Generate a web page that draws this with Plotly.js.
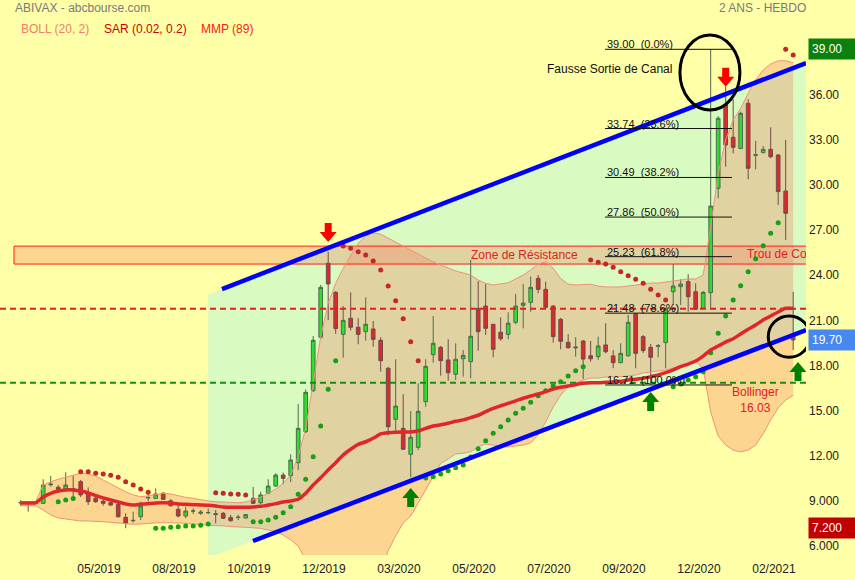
<!DOCTYPE html>
<html>
<head>
<meta charset="utf-8">
<script src="https://cdn.plot.ly/plotly-3.0.1.min.js"></script>
<style>
  html, body { margin: 0; padding: 0; background: #ffffa8; }
  #chart { width: 855px; height: 580px; }
</style>
</head>
<body>
<div id="chart"></div>
<script>
// ABIVAX weekly candles, two years
const weeks = [
  '2019-03-11','2019-03-18','2019-03-25','2019-04-01','2019-04-08','2019-04-15','2019-04-22','2019-04-29','2019-05-06','2019-05-13',
  '2019-05-20','2019-05-27','2019-06-03','2019-06-10','2019-06-17','2019-06-24','2019-07-01','2019-07-08','2019-07-15','2019-07-22',
  '2019-07-29','2019-08-05','2019-08-12','2019-08-19','2019-08-26','2019-09-02','2019-09-09','2019-09-16','2019-09-23','2019-09-30',
  '2019-10-07','2019-10-14','2019-10-21','2019-10-28','2019-11-04','2019-11-11','2019-11-18','2019-11-25','2019-12-02','2019-12-09',
  '2019-12-16','2019-12-23','2019-12-30','2020-01-06','2020-01-13','2020-01-20','2020-01-27','2020-02-03','2020-02-10','2020-02-17',
  '2020-02-24','2020-03-02','2020-03-09','2020-03-16','2020-03-23','2020-03-30','2020-04-06','2020-04-13','2020-04-20','2020-04-27',
  '2020-05-04','2020-05-11','2020-05-18','2020-05-25','2020-06-01','2020-06-08','2020-06-15','2020-06-22','2020-06-29','2020-07-06',
  '2020-07-13','2020-07-20','2020-07-27','2020-08-03','2020-08-10','2020-08-17','2020-08-24','2020-08-31','2020-09-07','2020-09-14',
  '2020-09-21','2020-09-28','2020-10-05','2020-10-12','2020-10-19','2020-10-26','2020-11-02','2020-11-09','2020-11-16','2020-11-23',
  '2020-11-30','2020-12-07','2020-12-14','2020-12-21','2020-12-28','2021-01-04','2021-01-11','2021-01-18','2021-01-25','2021-02-01',
  '2021-02-08','2021-02-15','2021-02-22','2021-03-01'
];

const open = [
  8.87, 8.90, 8.85, 8.85, 10.08, 9.92, 9.80, 9.82, 10.29, 9.52,
  9.19, 9.00, 8.89, 8.78, 7.92, 7.70, 7.96, 9.20, 9.18, 9.52,
  9.02, 8.46, 8.01, 8.33, 8.19, 8.22, 8.16, 8.19, 7.90, 7.91,
  7.88, 9.18, 8.89, 9.52, 10.00, 10.73, 10.69, 11.55, 13.61, 16.33,
  19.88, 24.79, 22.86, 20.07, 21.14, 20.54, 20.25, 20.43, 19.68, 17.82,
  14.43, 13.83, 12.11, 12.57, 15.60, 18.72, 19.21, 18.37, 17.42, 18.45,
  18.26, 21.80, 21.95, 20.74, 20.21, 20.07, 20.87, 22.00, 22.20, 23.79,
  23.06, 21.95, 21.07, 19.54, 19.17, 19.63, 18.65, 18.59, 19.37, 18.64,
  18.19, 18.65, 21.42, 19.92, 19.21, 19.28, 19.52, 22.90, 23.24, 23.57,
  22.90, 21.80, 22.84, 29.77, 35.30, 33.16, 32.42, 35.41, 31.96, 32.14,
  32.36, 31.98, 29.59, 20.03
];
const high = [
  9.07, 8.95, 8.95, 10.45, 10.67, 10.07, 10.91, 10.67, 10.40, 9.91,
  9.27, 9.12, 9.07, 8.85, 8.19, 8.30, 8.96, 9.52, 9.85, 9.60,
  9.12, 8.74, 8.63, 8.52, 8.41, 8.52, 8.41, 8.27, 8.08, 8.08,
  8.14, 9.94, 9.62, 10.45, 10.84, 10.89, 12.11, 15.45, 16.42, 19.96,
  23.35, 25.56, 22.95, 21.95, 22.86, 21.14, 22.53, 20.96, 19.88, 17.90,
  18.42, 16.09, 14.98, 16.82, 18.42, 21.29, 19.30, 19.74, 19.48, 19.03,
  25.01, 23.61, 23.41, 20.76, 21.20, 21.54, 22.75, 23.41, 23.90, 24.01,
  23.57, 22.02, 21.16, 20.09, 19.88, 19.70, 19.63, 19.92, 20.81, 19.03,
  19.48, 21.36, 21.49, 20.03, 19.43, 19.43, 21.82, 24.74, 23.73, 24.06,
  23.46, 22.95, 39.00, 34.57, 36.52, 35.68, 34.86, 35.68, 32.93, 32.58,
  33.82, 32.05, 32.98, 22.90
];
const low = [
  8.67, 8.30, 8.80, 8.85, 9.96, 9.69, 9.74, 9.29, 9.27, 8.74,
  8.87, 8.69, 8.67, 7.92, 7.20, 7.57, 7.74, 8.96, 9.14, 9.07,
  8.63, 7.92, 7.86, 8.14, 8.08, 8.14, 7.52, 7.81, 7.63, 7.74,
  7.83, 8.81, 8.81, 9.47, 9.94, 10.13, 10.27, 11.07, 13.52, 16.24,
  19.76, 21.02, 20.10, 18.52, 20.32, 19.41, 19.65, 19.25, 17.59, 13.36,
  13.66, 12.39, 10.57, 12.39, 15.27, 18.19, 17.33, 16.99, 17.04, 17.26,
  17.15, 18.98, 20.03, 18.55, 19.65, 19.74, 20.74, 20.47, 21.58, 22.80,
  21.80, 19.52, 19.08, 19.14, 18.59, 17.11, 18.26, 18.37, 18.81, 17.82,
  18.15, 18.59, 17.82, 18.83, 16.71, 18.55, 17.82, 22.02, 22.02, 21.58,
  21.69, 21.74, 21.80, 29.11, 31.20, 32.09, 32.36, 30.37, 31.03, 32.09,
  31.76, 28.66, 26.34, 19.03
];
const close = [
  8.91, 8.85, 8.88, 10.07, 10.13, 9.78, 10.07, 9.77, 9.41, 8.96,
  8.96, 8.85, 8.74, 7.96, 7.52, 7.72, 8.67, 9.24, 9.47, 9.12,
  8.69, 8.01, 8.34, 8.35, 8.27, 8.24, 8.12, 7.86, 7.70, 7.93,
  8.10, 8.85, 9.41, 10.00, 10.73, 10.51, 11.73, 13.83, 16.22, 19.68,
  23.19, 23.42, 20.45, 21.00, 20.54, 20.07, 20.74, 19.74, 18.32, 13.94,
  15.31, 12.44, 13.24, 14.96, 17.95, 19.48, 18.32, 17.52, 18.42, 18.68,
  19.94, 20.25, 20.47, 19.08, 19.78, 20.81, 21.95, 22.15, 23.19, 23.06,
  21.87, 19.92, 19.61, 19.18, 19.23, 18.43, 18.45, 19.30, 18.92, 18.19,
  18.81, 20.87, 18.81, 18.99, 18.55, 19.32, 21.74, 23.28, 23.41, 22.57,
  21.74, 22.86, 28.59, 34.42, 32.65, 32.49, 34.75, 31.10, 32.00, 32.36,
  31.87, 29.55, 28.11, 19.70
];

// Bollinger (20, 2) envelope
const bollUpper = [
  8.96, 8.96, 8.96, 10.07, 10.29, 10.45, 10.58, 10.73, 10.85, 10.80,
  10.67, 10.40, 10.13, 9.85, 9.62, 9.41, 9.29, 9.34, 9.45, 9.52,
  9.47, 9.34, 9.25, 9.18, 9.07, 9.01, 8.96, 8.92, 8.89, 8.89,
  8.94, 9.07, 9.25, 9.52, 9.80, 10.18, 10.73, 11.95, 13.85, 16.82,
  19.92, 22.13, 23.46, 24.46, 25.34, 26.12, 26.60, 26.82, 26.72, 26.45,
  26.20, 25.94, 25.67, 25.41, 25.14, 24.88, 24.68, 24.48, 24.28, 24.15,
  24.01, 23.68, 23.46, 23.35, 23.40, 23.50, 23.75, 24.01, 24.35, 24.74,
  24.90, 24.46, 23.79, 23.40, 23.35, 23.35, 23.40, 23.28, 23.22, 23.22,
  23.22, 23.28, 23.35, 23.42, 23.48, 23.48, 23.55, 23.61, 23.68, 23.75,
  23.75, 24.01, 27.22, 30.77, 32.98, 34.31, 35.08, 36.08, 36.96, 37.63,
  38.02, 38.24, 38.24, 38.11
];
const bollLower = [
  8.69, 8.69, 8.69, 8.41, 8.08, 7.88, 7.81, 7.74, 7.68, 7.68,
  7.68, 7.63, 7.59, 7.55, 7.48, 7.46, 7.48, 7.53, 7.55, 7.57,
  7.57, 7.55, 7.53, 7.48, 7.46, 7.41, 7.37, 7.35, 7.30, 7.28,
  7.26, 7.23, 7.19, 7.08, 6.95, 6.75, 6.42, 6.02, 5.09, 3.70,
  1.80, 1.00, 1.20, 1.40, 1.70, 2.20, 2.80, 3.40, 4.30, 5.70,
  6.70, 7.55, 8.00, 8.90, 9.70, 10.70, 11.50, 11.80, 12.13, 12.17,
  12.28, 12.61, 12.79, 12.72, 12.66, 12.59, 12.66, 12.72, 12.86, 13.39,
  14.25, 15.25, 16.04, 16.58, 16.84, 17.04, 17.17, 17.17, 17.24, 17.24,
  17.26, 17.31, 17.37, 17.51, 17.57, 17.64, 17.70, 17.84, 17.97, 18.10,
  18.24, 17.84, 14.92, 13.32, 12.72, 12.39, 12.26, 12.39, 12.72, 13.46,
  14.39, 15.18, 15.71, 16.03
];

// MMP (89)
const mmp89 = [
  8.87, 8.87, 8.89, 9.27, 9.52, 9.67, 9.74, 9.74, 9.67, 9.54,
  9.36, 9.21, 9.07, 8.94, 8.81, 8.74, 8.79, 8.83, 8.87, 8.89,
  8.87, 8.81, 8.79, 8.76, 8.74, 8.72, 8.67, 8.61, 8.59, 8.59,
  8.59, 8.61, 8.65, 8.74, 8.83, 8.94, 9.01, 9.12, 9.52, 10.07,
  10.55, 11.07, 11.55, 12.06, 12.44, 12.77, 12.94, 13.17, 13.46, 13.54,
  13.57, 13.59, 13.59, 13.66, 13.83, 13.99, 14.07, 14.17, 14.30, 14.39,
  14.54, 14.70, 14.94, 15.16, 15.33, 15.49, 15.65, 15.83, 15.98, 16.11,
  16.27, 16.44, 16.56, 16.64, 16.73, 16.82, 16.86, 16.86, 16.89, 16.91,
  16.96, 17.04, 17.09, 17.15, 17.26, 17.37, 17.53, 17.71, 17.93, 18.10,
  18.30, 18.63, 19.03, 19.30, 19.56, 19.78, 20.10, 20.41, 20.69, 21.03,
  21.29, 21.56, 21.80, 21.80
];

// Parabolic SAR (0.02, 0.2)
const sar = [
  null, null, null, null, null, 8.96, 9.07, 9.18, 10.95, 10.95,
  10.85, 10.80, 10.71, 10.58, 10.29, 10.07, 9.80, 9.58, 7.19, 7.19,
  7.26, 7.30, 7.35, 7.35, 7.39, 7.48, 9.56, 9.52, 9.47, 9.45,
  9.41, 7.63, 7.63, 7.74, 7.92, 8.23, 8.63, 9.45, 10.45, 11.95,
  13.99, 16.42, 18.32, 25.94, 25.79, 25.56, 25.34, 24.94, 24.35, 23.28,
  22.31, 21.11, 19.58, 18.32, 10.53, 10.62, 10.80, 11.02, 11.22, 11.40,
  11.93, 12.48, 13.01, 13.50, 13.94, 14.38, 14.83, 15.16, 15.56, 15.99,
  16.33, 16.66, 16.93, 17.31, 17.66, 17.92, 25.01, 24.86, 24.74, 24.52,
  24.23, 23.97, 23.73, 23.46, 23.06, 22.68, 22.35, 16.60, 16.78, 17.04,
  17.26, 17.59, 18.85, 20.14, 21.29, 22.35, 23.30, 24.23, 25.10, 25.96,
  26.78, 27.49, 39.00, 38.62
];

// Fibonacci retracement levels
const fibLevels = [39.00, 33.74, 30.49, 27.86, 25.23, 21.48, 16.71];
const fibRatios = ['0.0%', '23.6%', '38.2%', '50.0%', '61.8%', '78.6%', '100.0%'];

// Horizontal levels
const resistanceZone = [24.74, 25.93];
const resistanceLine = 21.77;
const supportLine = 16.86;

// Axis ticks
const yTickValues = [6, 9, 12, 15, 18, 21, 24, 27, 30, 33, 36];
const yTickLabels = ['6.000', '9.000', '12.00', '15.00', '18.00', '21.00', '24.00', '27.00', '30.00', '33.00', '36.00'];
const xTickWeeks = ['2019-05-27', '2019-08-05', '2019-10-14', '2019-12-23', '2020-03-02', '2020-05-11', '2020-07-20', '2020-09-28', '2020-12-07', '2021-02-15'];
const xTickLabels = ['05/2019', '08/2019', '10/2019', '12/2019', '03/2020', '05/2020', '07/2020', '09/2020', '12/2020', '02/2021'];

// ---- helpers: week index -> date string on the time axis
const DAY = 86400000, WEEK = 7 * DAY;
const T0 = Date.parse(weeks[0] + 'T00:00:00Z');
const toDate = ms => new Date(ms).toISOString().slice(0, 19).replace('T', ' ');
const xAt = i => toDate(T0 + i * WEEK);
const xPath = d => d.replace(' ', '_');
const X_LEFT = -2.76, X_RIGHT = 104.71;

const last = close.length - 1;
const periodHigh = Math.max(...high);
const periodLow = Math.min(...low);

const FONT = 'Liberation Sans, Arial, Helvetica, sans-serif';

// ---- background areas (shapes under the traces)
const shapes = [];
const polygon = pts => 'M' + pts.map(p => xPath(p[0]) + ',' + p[1]).join(' L') + ' Z';

// trend channel area
shapes.push({
  type: 'path', layer: 'below', line: { width: 0 }, fillcolor: '#d9fbc1',
  path: polygon([[xAt(25), 22.72], [xAt(X_RIGHT), 38.09], [xAt(X_RIGHT), 20.36], [xAt(25), 5.22]])
});

// Bollinger envelope area
const bandPts = weeks.map((d, i) => [d + ' 00:00:00', bollUpper[i]])
  .concat(weeks.map((d, i) => [d + ' 00:00:00', bollLower[i]]).reverse());
shapes.push({
  type: 'path', layer: 'below', line: { width: 0 }, fillcolor: 'rgba(245,120,90,0.30)',
  path: polygon(bandPts)
});

// resistance zone
shapes.push({
  type: 'rect', layer: 'below', x0: xAt(-0.89), x1: xAt(X_RIGHT + 1), y0: resistanceZone[0], y1: resistanceZone[1],
  fillcolor: 'rgba(240,130,100,0.33)', line: { color: '#ff1a1a', width: 1 }
});

// ---- traces
const traces = [];

// Bollinger bands
traces.push({ type: 'scatter', mode: 'lines', hoverinfo: 'skip', x: weeks, y: bollLower, line: { color: '#f0907c', width: 1 } });
traces.push({ type: 'scatter', mode: 'lines', hoverinfo: 'skip', x: weeks, y: bollUpper, line: { color: '#f0907c', width: 1 } });

// candles
traces.push({
  type: 'candlestick', x: weeks, open: open, high: high, low: low, close: close,
  increasing: { line: { color: '#4f6a4f', width: 1 }, fillcolor: '#2bdf2b' },
  decreasing: { line: { color: '#6e4c4c', width: 1 }, fillcolor: '#dc2a2a' },
  whiskerwidth: 0, hoverinfo: 'skip'
});

// dashed reference levels
traces.push({
  type: 'scatter', mode: 'lines', hoverinfo: 'skip',
  x: [xAt(X_LEFT), xAt(X_RIGHT)], y: [resistanceLine, resistanceLine],
  line: { color: '#e02020', width: 2, dash: '6px,4px' }
});
traces.push({
  type: 'scatter', mode: 'lines', hoverinfo: 'skip',
  x: [xAt(X_LEFT), xAt(X_RIGHT)], y: [supportLine, supportLine],
  line: { color: '#119011', width: 2, dash: '6px,4px' }
});

// SAR dots: below price = green, above = red
traces.push({
  type: 'scatter', mode: 'markers', hoverinfo: 'skip', x: weeks,
  y: sar.map((s, i) => (s !== null && s >= close[i]) ? s : null),
  marker: { color: '#c4262a', size: 5 }
});
traces.push({
  type: 'scatter', mode: 'markers', hoverinfo: 'skip', x: weeks,
  y: sar.map((s, i) => (s !== null && s < close[i]) ? s : null),
  marker: { color: '#16a016', size: 5 }
});

// MMP 89
traces.push({
  type: 'scatter', mode: 'lines', hoverinfo: 'skip', x: weeks, y: mmp89,
  line: { color: '#e0262a', width: 3.5, shape: 'spline', smoothing: 0.6 }
});

// gap label, clipped by the plot frame
traces.push({
  type: 'scatter', mode: 'text', hoverinfo: 'skip', cliponaxis: true,
  x: [xAt(96.84)], y: [25.34], text: ['Trou de Cotation'], textposition: 'middle right',
  textfont: { family: FONT, size: 12, color: '#e02020' }
});

// ---- overlay shapes
// channel borders
shapes.push({ type: 'line', layer: 'above', x0: xAt(26.84), y0: 23.08, x1: xAt(X_RIGHT), y1: 38.09, line: { color: '#0000ff', width: 4.5 } });
shapes.push({ type: 'line', layer: 'above', x0: xAt(30.97), y0: 6.35, x1: xAt(X_RIGHT), y1: 20.36, line: { color: '#0000ff', width: 4.5 } });

// Fibonacci lines
fibLevels.forEach(v => {
  shapes.push({ type: 'line', layer: 'above', x0: xAt(77.91), x1: xAt(94.84), y0: v, y1: v, line: { color: '#111', width: 1 } });
});

// circled areas
shapes.push({ type: 'circle', layer: 'above', x0: xAt(87.9), x1: xAt(95.9), y0: 34.97, y1: 39.95, line: { color: '#000', width: 3 } });
shapes.push({ type: 'circle', layer: 'above', x0: xAt(99.68), x1: xAt(105.24), y0: 18.55, y1: 21.29, line: { color: '#000', width: 3 } });

// block arrows (pixel-sized, anchored at the tip)
const downArrow = 'M0,0 L8.5,10 L3.5,10 L3.5,19 L-3.5,19 L-3.5,10 L-8.5,10 Z';
const upArrow = 'M0,0 L8.5,-10 L3.5,-10 L3.5,-19 L-3.5,-19 L-3.5,-10 L-8.5,-10 Z';
const arrow = (idx, v, path, color) => ({
  type: 'path', layer: 'above', xsizemode: 'pixel', ysizemode: 'pixel',
  xanchor: xAt(idx), yanchor: v, path: path,
  fillcolor: color, line: { width: 0 }
});
shapes.push(arrow(41, 26.2, downArrow, '#ff0000'));
shapes.push(arrow(94, 36.52, downArrow, '#ff0000'));
shapes.push(arrow(52, 9.87, upArrow, '#008000'));
shapes.push(arrow(84, 16.24, upArrow, '#008000'));
shapes.push(arrow(103.64, 18.24, upArrow, '#008000'));

// ---- annotations
const PLOT_W = 806, PLOT_H = 555;
const px = x => x / PLOT_W;
const py = y => (PLOT_H - y) / PLOT_H;
const ann = [];
const paperText = (text, x, y, color, anchor) => ann.push({
  xref: 'paper', yref: 'paper', x: px(x), y: py(y), xanchor: anchor || 'left', yanchor: 'middle',
  text: text, showarrow: false, font: { family: FONT, size: 12, color: color }
});
paperText('ABIVAX - abcbourse.com', 13, 8, '#7a7a7a');
paperText('BOLL (20, 2)', 19, 29, '#f0806c');
paperText('SAR (0.02, 0.2)', 102, 29, '#cc0000');
paperText('MMP (89)', 199, 29, '#ff1a1a');
paperText('2 ANS - HEBDO', 762, 8, '#7a7a7a', 'center');

ann.push({ x: xAt(78.5), y: 37.69, text: 'Fausse Sortie de Canal', showarrow: false,
  font: { family: FONT, size: 12, color: '#111' } });
ann.push({ x: xAt(67.24), y: 25.34, text: 'Zone de Résistance', showarrow: false,
  font: { family: FONT, size: 12, color: '#e02020' } });
ann.push({ x: xAt(98.04), y: 15.71, text: 'Bollinger<br>' + bollLower[last].toFixed(2), showarrow: false,
  font: { family: FONT, size: 12, color: '#e02020' } });

fibLevels.forEach((v, k) => {
  ann.push({ x: xAt(77.91), y: v, xanchor: 'left', yanchor: 'bottom', yshift: -3,
    text: v.toFixed(2) + '&nbsp;&nbsp;(' + fibRatios[k] + ')', showarrow: false,
    font: { family: FONT, size: 11, color: '#111' } });
});

// price boxes on the right axis
const priceBox = (v, label, bg) => ann.push({
  xref: 'paper', x: 1, xanchor: 'left', xshift: 2, y: v, yanchor: 'middle',
  text: label, showarrow: false, bgcolor: bg, borderpad: 3, width: 42, align: 'left',
  font: { family: FONT, size: 12, color: '#ffffff' }
});
priceBox(periodHigh, periodHigh.toFixed(2), '#0b800b');
priceBox(close[last], close[last].toFixed(2), '#4787f0');
priceBox(periodLow, periodLow.toFixed(3), '#c00000');

const layout = {
  width: 855, height: 580,
  paper_bgcolor: '#ffffa8', plot_bgcolor: '#ffffa8',
  margin: { l: 0, r: 49, t: 0, b: 25 },
  showlegend: false, hovermode: false,
  font: { family: FONT, size: 12, color: '#222' },
  xaxis: {
    type: 'date', range: [xAt(X_LEFT), xAt(X_RIGHT)],
    showgrid: false, zeroline: false, showline: false, ticks: '',
    tickvals: xTickWeeks.map(d => toDate(Date.parse(d + 'T00:00:00Z') - 4 * DAY)),
    ticktext: xTickLabels, tickfont: { family: FONT, size: 12, color: '#222' },
    ticklabelstandoff: 5,
    rangeslider: { visible: false }, fixedrange: true
  },
  yaxis: {
    side: 'right', range: [5.42, 42.274],
    showgrid: false, zeroline: false, showline: false, ticks: '',
    tickvals: yTickValues, ticktext: yTickLabels, ticklabelstandoff: 2,
    tickfont: { family: FONT, size: 12, color: '#222' }, fixedrange: true
  },
  shapes: shapes,
  annotations: ann
};

Plotly.newPlot('chart', traces, layout, { staticPlot: true, displayModeBar: false });
</script>
</body>
</html>
